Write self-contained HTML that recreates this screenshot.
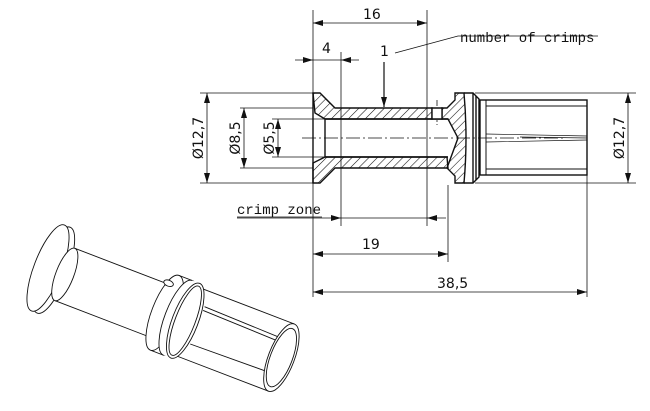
<!DOCTYPE html>
<html><head><meta charset="utf-8"><style>
html,body{margin:0;padding:0;background:#fff}
svg{display:block}
text{font-family:"DejaVu Sans","Liberation Sans",sans-serif;font-size:14px;fill:#111}
text.m{font-family:"Liberation Mono",monospace;font-size:14px}
</style></head><body>
<svg width="650" height="411" viewBox="0 0 650 411" xmlns="http://www.w3.org/2000/svg">
<defs>
<pattern id="h" patternUnits="userSpaceOnUse" width="6" height="6" patternTransform="rotate(45)">
<line x1="0" y1="0" x2="0" y2="6" stroke="#111" stroke-width="1.1"/>
</pattern>
<marker id="a" viewBox="0 0 10 6" refX="10" refY="3" markerWidth="10" markerHeight="6" orient="auto-start-reverse" markerUnits="userSpaceOnUse"><path d="M0,0L10,3L0,6z" fill="#111"/></marker>
</defs>
<g stroke="#111" fill="none" stroke-width="0.8">
<line x1="313" y1="10" x2="313" y2="297"/>
<line x1="427" y1="10" x2="427" y2="226"/>
<line x1="341" y1="52" x2="341" y2="226"/>
<line x1="448" y1="185" x2="448" y2="262"/>
<line x1="587" y1="175" x2="587" y2="297"/>
<line x1="200" y1="93" x2="313" y2="93"/>
<line x1="200" y1="183" x2="313" y2="183"/>
<line x1="240" y1="108" x2="313" y2="108"/>
<line x1="240" y1="168" x2="313" y2="168"/>
<line x1="272" y1="119" x2="325" y2="119"/>
<line x1="272" y1="157" x2="325" y2="157"/>
<line x1="475" y1="93" x2="636" y2="93"/>
<line x1="475" y1="183" x2="636" y2="183"/>
<line x1="313" y1="23" x2="427" y2="23" marker-start="url(#a)" marker-end="url(#a)"/>
<line x1="295" y1="60" x2="313" y2="60" marker-end="url(#a)"/>
<line x1="359" y1="60" x2="341" y2="60" marker-end="url(#a)"/>
<line x1="313" y1="60" x2="341" y2="60"/>
<line x1="207" y1="93" x2="207" y2="183" marker-start="url(#a)" marker-end="url(#a)"/>
<line x1="244" y1="108" x2="244" y2="168" marker-start="url(#a)" marker-end="url(#a)"/>
<line x1="278" y1="119" x2="278" y2="157" marker-start="url(#a)" marker-end="url(#a)"/>
<line x1="628" y1="93" x2="628" y2="183" marker-start="url(#a)" marker-end="url(#a)"/>
<line x1="237" y1="218" x2="341" y2="218" marker-end="url(#a)"/>
<line x1="446" y1="218" x2="427" y2="218" marker-end="url(#a)"/>
<line x1="341" y1="218" x2="427" y2="218"/>
<line x1="237" y1="217" x2="322" y2="217"/>
<line x1="313" y1="254" x2="448" y2="254" marker-start="url(#a)" marker-end="url(#a)"/>
<line x1="313" y1="292" x2="587" y2="292" marker-start="url(#a)" marker-end="url(#a)"/>
<line x1="384" y1="62" x2="384" y2="107" stroke-width="1.2" marker-end="url(#a)"/>
<polyline points="395,53 458,36 598,36"/>
<line x1="302" y1="138" x2="565" y2="138" stroke-dasharray="14,3,2,3"/>
<line x1="437" y1="100" x2="437" y2="125" stroke-dasharray="6,2,2,2"/>
</g>
<g stroke="#111" stroke-width="1.4" fill="url(#h)">
<path d="M313,93 L320,93 L335,108 L432,108 L432,119 L325,119 L315,113 Z"/>
<path d="M442,108 L447,108 L455,100 L455,93 L464,93 Q468,138 464,183 L455,183 L455,176 L447,168 L458,138 L448,119 L442,119 Z" />
<path d="M313,183 L313,163 L325,157 L447,157 L448,168 L335,168 L320,183 Z"/>
</g>
<g stroke="#111" stroke-width="1.4" fill="none">
<line x1="313" y1="93" x2="313" y2="183"/>
<line x1="325" y1="119" x2="325" y2="157"/>
<line x1="325" y1="119" x2="448" y2="119"/>
<line x1="325" y1="157" x2="448" y2="157"/>
<path d="M432,108 L442,108 L442,119 L432,119 Z" fill="#fff"/>
<path d="M464,93 L473,93 L479,99 L479,177 L473,183 L464,183"/>
<line x1="473" y1="93" x2="473" y2="183"/>
<line x1="476" y1="96" x2="476" y2="180"/>
<rect x="480" y="100" width="107" height="75"/>
<line x1="486" y1="100" x2="486" y2="175" stroke-width="1"/>
<line x1="486" y1="106" x2="587" y2="106" stroke-width="1"/>
<line x1="486" y1="169" x2="587" y2="169" stroke-width="1"/>
<path d="M486,134 L587,136 M486,142 L587,140 M520,137 L587,138" stroke-width="0.7"/>
</g>
<g>
<text x="363" y="19">16</text>
<text x="322" y="53">4</text>
<text x="380" y="56">1</text>
<text class="m" x="460" y="42">number of crimps</text>
<text class="m" x="237" y="214">crimp zone</text>
<text x="362" y="249">19</text>
<text x="437" y="288">38,5</text>
<text transform="translate(203,138) rotate(-90)" text-anchor="middle">Ø12,7</text>
<text transform="translate(240,138) rotate(-90)" text-anchor="middle">Ø8,5</text>
<text transform="translate(274,138) rotate(-90)" text-anchor="middle">Ø5,5</text>
<text transform="translate(624,138) rotate(-90)" text-anchor="middle">Ø12,7</text>
</g>
<g transform="translate(48,268) rotate(21)" stroke="#111" stroke-width="0.9" fill="#fff">
<ellipse cx="6" cy="0" rx="14" ry="46"/>
<ellipse cx="0" cy="0" rx="14" ry="46"/>
<path d="M18,-28 L150,-28 L150,28 L18,28"/>
<ellipse cx="18" cy="0" rx="9" ry="28"/>
<path d="M150,-36 L250,-36 L250,36 L150,36"/>
<line x1="160" y1="-20" x2="250" y2="-18"/>
<line x1="160" y1="20" x2="250" y2="18"/>
<line x1="160" y1="-16" x2="250" y2="-14"/>
<ellipse cx="250" cy="0" rx="13" ry="36"/>
<ellipse cx="250" cy="0" rx="11" ry="31"/>
<rect x="125" y="-40" width="14" height="80"/>
<ellipse cx="125" cy="0" rx="13" ry="40"/>
<ellipse cx="139" cy="0" rx="13" ry="40"/>
<rect x="139" y="-40" width="8" height="80" stroke="none"/>
<ellipse cx="147" cy="0" rx="13" ry="40"/>
<ellipse cx="147" cy="0" rx="10" ry="37" fill="none"/>
<ellipse cx="118" cy="-29" rx="5" ry="3"/>
</g>
</svg>
</body></html>
